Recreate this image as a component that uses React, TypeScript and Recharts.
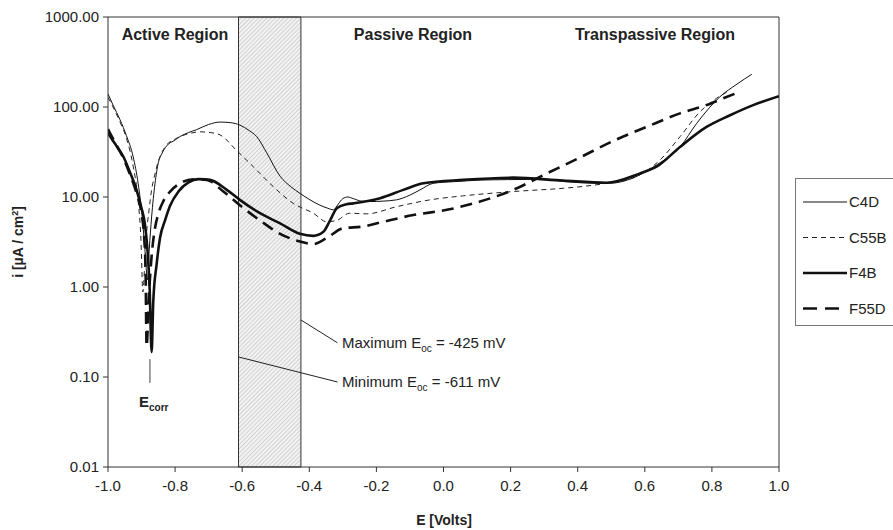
import { LineChart, Line, XAxis, YAxis, ReferenceArea, ReferenceLine } from 'recharts'

// potential (V) / current density (µA/cm²)
const E_C4D = [-1.0, -0.985, -0.964, -0.945, -0.925, -0.91, -0.898, -0.89, -0.882, -0.877, -0.87, -0.86, -0.85, -0.84, -0.825, -0.8, -0.785, -0.76, -0.736, -0.7, -0.666, -0.635, -0.607, -0.58, -0.557, -0.527, -0.487, -0.455, -0.428, -0.398, -0.368, -0.345, -0.328, -0.314, -0.3, -0.285, -0.269, -0.245, -0.219, -0.18, -0.14, -0.1, -0.07, -0.03, 0.03, 0.109, 0.19, 0.268, 0.34, 0.407, 0.496, 0.56, 0.635, 0.705, 0.755, 0.824, 0.875, 0.919]
const I_C4D = [140, 105, 72, 48, 28, 14, 6, 2.6, 1.2, 2.6, 6, 14, 24, 30, 37, 43, 47, 52, 56, 64, 68, 67, 63, 55, 47, 31, 17, 13, 11, 9.3, 8.1, 7.5, 7.2, 8.3, 9.6, 10, 9.6, 9.0, 8.9, 9.0, 9.3, 10.5, 12, 14.2, 14.8, 15.4, 15.6, 15.7, 15.2, 14.4, 14.2, 16, 22.7, 36, 66, 130, 180, 231]

const E_C55B = [-1.0, -0.985, -0.964, -0.945, -0.925, -0.91, -0.902, -0.896, -0.89, -0.885, -0.878, -0.87, -0.86, -0.85, -0.84, -0.825, -0.8, -0.785, -0.755, -0.726, -0.695, -0.666, -0.617, -0.567, -0.507, -0.448, -0.388, -0.348, -0.318, -0.28, -0.229, -0.14, -0.04, 0.059, 0.208, 0.357, 0.407, 0.486, 0.56, 0.645, 0.705, 0.765, 0.814, 0.85]
const I_C55B = [128, 100, 68, 45, 22, 9, 3.5, 0.88, 2, 4, 7, 12, 18, 25, 31, 38, 44, 47, 51, 53, 52, 49, 33, 21.7, 13, 8.5, 6.6, 5.3, 5.5, 6.6, 6.5, 7.8, 9.3, 10.3, 11.5, 12.5, 13, 14.2, 16, 25.7, 46.8, 89, 125, 150]

const E_F4B = [-1.0, -0.99, -0.975, -0.954, -0.935, -0.915, -0.9, -0.89, -0.882, -0.876, -0.87, -0.865, -0.855, -0.845, -0.83, -0.815, -0.79, -0.76, -0.73, -0.696, -0.646, -0.607, -0.547, -0.487, -0.428, -0.388, -0.358, -0.338, -0.318, -0.289, -0.269, -0.189, -0.12, -0.06, 0.059, 0.208, 0.357, 0.486, 0.586, 0.635, 0.705, 0.784, 0.854, 0.923, 1.0]
const I_F4B = [52, 45, 37, 28, 19, 12, 7.5, 5, 2.5, 1.0, 0.19, 0.7, 1.8, 3.5, 5.5, 8, 11.5, 14.5, 15.8, 15.5, 12, 9.3, 6.6, 5.1, 3.9, 3.7, 4.1, 5.5, 7.5, 8.3, 8.5, 9.7, 12, 14.2, 15.5, 16.4, 15.2, 14.4, 18.3, 21.7, 36, 60, 81, 105, 132]

const E_F55D = [-1.0, -0.99, -0.975, -0.954, -0.935, -0.915, -0.9, -0.892, -0.888, -0.885, -0.878, -0.87, -0.86, -0.85, -0.835, -0.815, -0.785, -0.746, -0.706, -0.656, -0.607, -0.547, -0.487, -0.428, -0.388, -0.348, -0.299, -0.239, -0.189, -0.09, 0.01, 0.109, 0.208, 0.308, 0.407, 0.506, 0.605, 0.705, 0.784, 0.834, 0.884]
const I_F55D = [57, 48, 38, 27, 18, 11, 6.5, 3.5, 1.5, 0.22, 0.8, 2.2, 4.5, 6.5, 9, 11.5, 14.2, 15.7, 15.5, 11.5, 8.1, 5.5, 3.9, 3.2, 3.0, 3.5, 4.5, 4.7, 5.2, 6.3, 7.2, 8.9, 12, 18.3, 27.5, 42, 60, 85, 105, 125, 148]

const X_TICKS = [-1.0, -0.8, -0.6, -0.4, -0.2, 0.0, 0.2, 0.4, 0.6, 0.8, 1.0]
const Y_TICKS = [0.01, 0.1, 1, 10, 100, 1000]

const E_OC_MIN = -0.611
const E_OC_MAX = -0.425

const zip = (es: number[], is: number[]) => es.map((E, k) => ({ E, i: is[k] }))

const series = [
  { name: 'C4D', data: zip(E_C4D, I_C4D), width: 1, dash: undefined, legendDash: undefined, color: '#111' },
  { name: 'C55B', data: zip(E_C55B, I_C55B), width: 1, dash: '5 4', legendDash: '5 4', color: '#222' },
  { name: 'F4B', data: zip(E_F4B, I_F4B), width: 2.6, dash: undefined, legendDash: undefined, color: '#111' },
  { name: 'F55D', data: zip(E_F55D, I_F55D), width: 2.6, dash: '12 7', legendDash: '14 8', color: '#111' },
]

const FONT = 'Arial, "Liberation Sans", Helvetica, sans-serif'

function LegendBox() {
  return (
    <svg width={100} height={150} style={{ display: 'block' }}>
      <rect x={0.5} y={0.5} width={110} height={147} fill="#fff" stroke="#777" />
      {series.map((s, k) => (
        <g key={s.name}>
          <line x1={8} x2={52} y1={24 + k * 35.5} y2={24 + k * 35.5} stroke={s.color} strokeWidth={s.width} strokeDasharray={s.legendDash} />
          <text x={54} y={29 + k * 35.5} fontSize={15} fill="#222" fontFamily={FONT}>{s.name}</text>
        </g>
      ))}
    </svg>
  )
}

export default function App() {
  return (
    <div style={{ position: 'absolute', left: 0, top: 0, width: 893, height: 530, background: '#fff', fontFamily: FONT }}>
      <LineChart width={893} height={530} margin={{ top: 17, right: 114, bottom: 33, left: 48 }}>
        <defs>
          <pattern id="hatch" patternUnits="userSpaceOnUse" width={3} height={3} patternTransform="rotate(45)">
            <rect width={3} height={3} fill="#f3f3f3" />
            <line x1={0} y1={0} x2={0} y2={3} stroke="#b0b0b0" strokeWidth={1} />
          </pattern>
        </defs>
        <XAxis
          type="number"
          dataKey="E"
          domain={[-1, 1]}
          ticks={X_TICKS}
          tickFormatter={(v: number) => v.toFixed(1)}
          allowDataOverflow
          height={30}
          tickSize={5}
          tickMargin={8}
          stroke="#333"
          tick={{ fill: '#222', fontSize: 15, fontFamily: FONT }}
        />
        <YAxis
          type="number"
          scale="log"
          domain={[0.01, 1000]}
          ticks={Y_TICKS}
          tickFormatter={(v: number) => v.toFixed(2)}
          allowDataOverflow
          width={60}
          tickSize={5}
          tickMargin={4}
          stroke="#333"
          tick={{ fill: '#222', fontSize: 15, fontFamily: FONT }}
        />
        <ReferenceArea x1={E_OC_MIN} x2={E_OC_MAX} y1={0.01} y2={1000} fill="url(#hatch)" fillOpacity={1} stroke="#333" strokeWidth={1} />
        <ReferenceLine y={1000} stroke="#333" />
        <ReferenceLine x={1} stroke="#333" />
        {/* leader lines for the annotations */}
        <ReferenceLine segment={[{ x: E_OC_MAX, y: 0.43 }, { x: -0.316, y: 0.24 }]} stroke="#222" />
        <ReferenceLine segment={[{ x: E_OC_MIN, y: 0.167 }, { x: -0.316, y: 0.088 }]} stroke="#222" />
        <ReferenceLine segment={[{ x: -0.875, y: 0.158 }, { x: -0.875, y: 0.086 }]} stroke="#444" />
        {series.map((s) => (
          <Line
            key={s.name}
            data={s.data}
            dataKey="i"
            name={s.name}
            type="monotone"
            stroke={s.color}
            strokeWidth={s.width}
            strokeDasharray={s.dash}
            dot={false}
            isAnimationActive={false}
          />
        ))}
      </LineChart>

      <div style={{ position: 'absolute', left: 795, top: 178 }}>
        <LegendBox />
      </div>

      <svg width={893} height={530} style={{ position: 'absolute', left: 0, top: 0, pointerEvents: 'none' }} fontFamily={FONT}>
        <g fontWeight="bold" fontSize={16} fill="#222" textAnchor="middle">
          <text x={175} y={40}>Active Region</text>
          <text x={413} y={40}>Passive Region</text>
          <text x={655} y={40}>Transpassive Region</text>
        </g>
        <text x={444} y={525} fontWeight="bold" fontSize={14} fill="#222" textAnchor="middle">E [Volts]</text>
        <text transform="translate(23,242) rotate(-90)" fontWeight="bold" fontSize={14} fill="#222" textAnchor="middle">
          i [µA / cm<tspan dy={-5} fontSize={9}>2</tspan><tspan dy={5}>]</tspan>
        </text>
        <g fontSize={15} fill="#222">
          <text x={342} y={348}>Maximum E<tspan dy={4} fontSize={10}>oc</tspan><tspan dy={-4}> = -425 mV</tspan></text>
          <text x={342} y={387}>Minimum E<tspan dy={4} fontSize={10}>oc</tspan><tspan dy={-4}> = -611 mV</tspan></text>
        </g>
        <text x={139} y={407} fontSize={15} fontWeight="bold" fill="#222">E<tspan dy={4} fontSize={10}>corr</tspan></text>
      </svg>
    </div>
  )
}
